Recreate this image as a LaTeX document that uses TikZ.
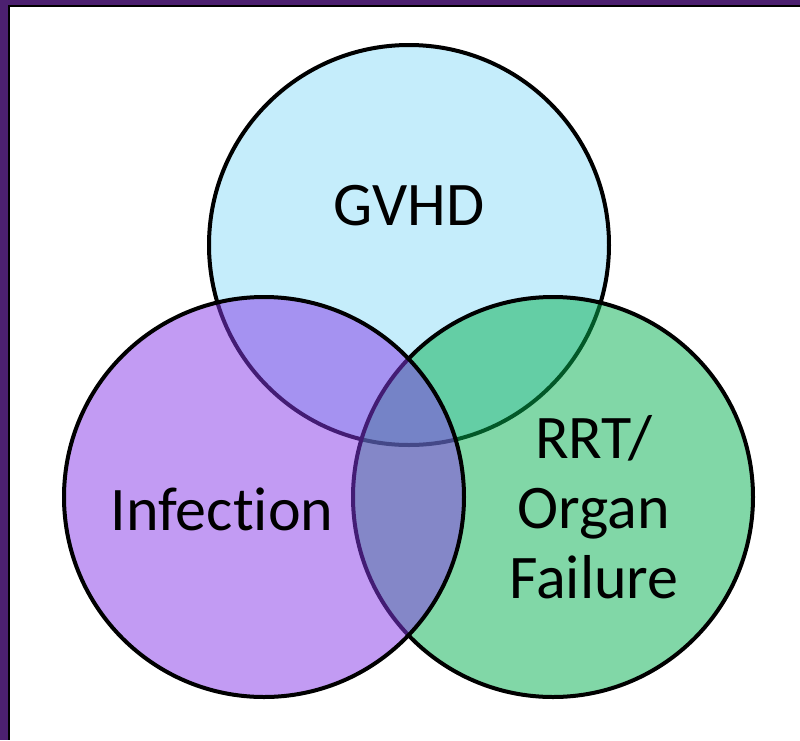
\documentclass[tikz,border=0pt]{standalone}
\usepackage{fontspec}
\setmainfont{Carlito}[RawFeature={-liga;-clig;-dlig;-calt}]
\definecolor{framepurple}{RGB}{76,32,112}
\definecolor{gvhdblue}{RGB}{141,221,249}
\definecolor{organgreen}{RGB}{5,177,81}
\definecolor{infpurple}{RGB}{135,57,233}
\tikzset{
  venn/.style={circle, draw=black, line width=3pt, fill opacity=0.5,
               minimum size=300pt, inner sep=0pt, outer sep=0pt},
  label text/.style={font=\fontsize{46.5}{52.5}\selectfont, text=black,
               inner sep=0pt, align=center}
}
\begin{document}
\begin{tikzpicture}[x=0.75pt, y=-0.75pt]
  \useasboundingbox (0,0) rectangle (800,740);
  % slide frame: purple band with a thin black rule inside
  \fill[white] (0,0) rectangle (800,740);
  \fill[framepurple] (0,0) rectangle (800,5);
  \fill[framepurple] (0,0) rectangle (8,740);
  \fill[black] (8,5) rectangle (800,7);
  \fill[black] (8,5) rectangle (10,740);
  % the three sets
  \node[venn, fill=gvhdblue]   (gvhd)  at (409,245) {};
  \node[venn, fill=organgreen] (organ) at (553,497) {};
  \node[venn, fill=infpurple]  (infec) at (264,497) {};
  % labels
  \node[label text, anchor=base] (tg) at (409,225) {GVHD};
  \node[label text, anchor=base] (ti) at (222,530) {Infec\kern0pt tion};
  \node[label text, anchor=base] (tr1) at (594,458) {RRT/};
  \node[label text, anchor=base] (tr2) at (594,528) {Organ};
  \node[label text, anchor=base] (tr3) at (594,598) {Failure};
\end{tikzpicture}
\end{document}
